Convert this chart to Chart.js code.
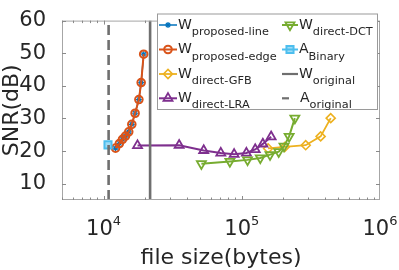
<!DOCTYPE html>
<html>
<head>
<meta charset="utf-8">
<script src="https://cdn.jsdelivr.net/npm/chart.js@4/dist/chart.umd.min.js"></script>
<style>
  body { margin: 0; background: #fff; }
  canvas { display: block; }
</style>
</head>
<body>
<canvas id="snr-chart" width="399" height="270"></canvas>
<script>
const fontName = "DejaVu Sans"
const textColor = "#262626"

// file size (bytes) / SNR (dB)
const sizeProposed = [12200, 13000, 13700, 14400, 15200, 16000, 16900, 18000, 18700, 19500]
const snrProposedLine = [20.9, 22.3, 23.6, 24.6, 25.9, 28.2, 31.6, 35.8, 41.0, 49.7]
const snrProposedEdge = [20.9, 22.3, 23.6, 24.6, 25.9, 28.2, 31.6, 35.8, 41.0, 49.7]
const sizeGFB = [155000, 205000, 290000, 372000, 440000]
const snrGFB = [20.8, 21.3, 21.8, 24.5, 30.1]
const sizeLRA = [17600, 35200, 53000, 70500, 88000, 108000, 125000, 142000, 163000]
const snrLRA = [21.7, 21.8, 20.2, 19.4, 19.0, 19.4, 20.5, 22.2, 24.4]
const sizeDCT = [51000, 82000, 110000, 136000, 160000, 185000, 202000, 220000, 242000]
const snrDCT = [16.1, 16.8, 17.3, 17.9, 18.9, 19.8, 21.5, 24.5, 30.1]
const sizeBinary = [10760]
const snrBinary = [21.9]
const sizeWOriginal = 21700
const sizeAOriginal = 10870

const yTicks = [10, 20, 30, 40, 50, 60]
const xTicks = [1e4, 1e5, 1e6]
const xTickExp = ["4", "5", "6"]
const yRange = [5, 60]
const xRange = [5000, 1e6]

function pts(xs, ys) {
    return xs.map((x, i) => ({ x: x, y: ys[i] }))
}

// legend entries: [main letter, subscript]
const legendNames = [
    ["W", "proposed-line"], ["W", "proposed-edge"], ["W", "direct-GFB"], ["W", "direct-LRA"],
    ["W", "direct-DCT"], ["A", "Binary"], ["W", "original"], ["A", "original"]
]

const datasets = [
    { data: pts(sizeProposed, snrProposedLine), borderColor: "#0072BD", borderWidth: 1.5,
      pointStyle: "star", pointRadius: 3, pointBorderWidth: 1.2 },
    { data: pts(sizeProposed, snrProposedEdge), borderColor: "#D95319", borderWidth: 2,
      pointStyle: "circle", pointRadius: 3.8, pointBorderWidth: 2 },
    { data: pts(sizeGFB, snrGFB), borderColor: "#EDB120", borderWidth: 1.8,
      pointStyle: "rectRot", pointRadius: 4.5, pointBorderWidth: 1.6 },
    { data: pts(sizeLRA, snrLRA), borderColor: "#7E2F8E", borderWidth: 2,
      pointStyle: "triangle", pointRadius: 5.2, pointBorderWidth: 1.8 },
    { data: pts(sizeDCT, snrDCT), borderColor: "#77AC30", borderWidth: 2,
      pointStyle: "triangle", pointRotation: 180, pointRadius: 5.2, pointBorderWidth: 1.8 },
    { data: pts(sizeBinary, snrBinary), borderColor: "#4DBEEE", backgroundColor: "rgba(77,190,238,0.55)",
      pointStyle: "rect", pointRadius: 5, pointBorderWidth: 2 },
    { data: pts([sizeWOriginal, sizeWOriginal], yRange), borderColor: "#6f6f6f", borderWidth: 2.6, pointRadius: 0 },
    { data: pts([sizeAOriginal, sizeAOriginal], yRange), borderColor: "#6f6f6f", borderWidth: 2.6, pointRadius: 0,
      borderDash: [10, 5] }
]
datasets.forEach((d, i) => {
    d.showLine = true
    d.fill = false
    d.order = datasets.length - i
    if (!d.backgroundColor) d.backgroundColor = "rgba(0,0,0,0)"
    d.pointBackgroundColor = d.backgroundColor
    d.pointBorderColor = d.borderColor
})

// box, inward ticks, x labels and axis titles
const axesPlugin = {
    id: "axesBox",
    afterDatasetsDraw(chart) {
        const c = chart.ctx
        const a = chart.chartArea
        const xs = chart.scales.x
        const ys = chart.scales.y
        c.save()
        c.strokeStyle = "#a6a6a6"
        c.lineWidth = 1
        c.strokeRect(a.left + 0.5, a.top + 0.5, a.right - a.left - 1, a.bottom - a.top - 1)
        c.strokeStyle = "#8a8a8a"
        c.beginPath()
        yTicks.forEach(v => {
            const y = Math.round(ys.getPixelForValue(v)) + 0.5
            c.moveTo(a.left, y); c.lineTo(a.left + 4, y)
            c.moveTo(a.right, y); c.lineTo(a.right - 4, y)
        })
        for (let e = 3; e < 6; e++) {
            for (let m = 1; m < 10; m++) {
                const v = m * Math.pow(10, e)
                if (v < xRange[0] || v > xRange[1]) continue
                const x = Math.round(xs.getPixelForValue(v)) + 0.5
                const len = m === 1 ? 4 : 2.5
                c.moveTo(x, a.bottom); c.lineTo(x, a.bottom - len)
                c.moveTo(x, a.top); c.lineTo(x, a.top + len)
            }
        }
        c.stroke()

        c.fillStyle = textColor
        c.textBaseline = "alphabetic"
        xTicks.forEach((v, i) => {
            const x = xs.getPixelForValue(v)
            c.font = "21px '" + fontName + "'"
            const w1 = c.measureText("10").width
            c.font = "13px '" + fontName + "'"
            const w2 = c.measureText(xTickExp[i]).width
            const x0 = x - (w1 + w2) / 2
            c.font = "21px '" + fontName + "'"
            c.textAlign = "left"
            c.fillText("10", x0, 235)
            c.font = "13px '" + fontName + "'"
            c.fillText(xTickExp[i], x0 + w1, 225)
        })
        c.font = "22px '" + fontName + "'"
        c.textAlign = "center"
        c.fillText("file size(bytes)", (a.left + a.right) / 2, 264)
        c.save()
        c.translate(18, (a.top + a.bottom) / 2)
        c.rotate(-Math.PI / 2)
        c.fillText("SNR(dB)", 0, 0)
        c.restore()
        c.restore()
    }
}

function drawMarker(c, ds, x, y) {
    if (!ds.pointRadius) return
    c.fillStyle = ds.backgroundColor
    c.strokeStyle = ds.borderColor
    c.lineWidth = ds.pointBorderWidth
    c.setLineDash([])
    Chart.helpers.drawPoint(c, {
        pointStyle: ds.pointStyle, radius: ds.pointRadius,
        rotation: ds.pointRotation || 0, borderWidth: ds.pointBorderWidth
    }, x, y)
}

// legend box drawn inside the plot
const legendPlugin = {
    id: "insideLegend",
    afterDraw(chart) {
        const c = chart.ctx
        const box = { left: 157.5, top: 14, right: 377.5, bottom: 109.5 }
        c.save()
        c.fillStyle = "#fff"
        c.fillRect(box.left, box.top, box.right - box.left, box.bottom - box.top)
        c.strokeStyle = "#9a9a9a"
        c.lineWidth = 1
        c.strokeRect(box.left, box.top, box.right - box.left, box.bottom - box.top)
        const rowY = [25, 49.5, 74, 98.3]
        const cols = [{ x0: 159, x1: 177, tx: 178 }, { x0: 282, x1: 298, tx: 299 }]
        legendNames.forEach((nm, i) => {
            const col = cols[Math.floor(i / 4)]
            const y = rowY[i % 4]
            const ds = datasets[i]
            let x1 = col.x1
            let tx = col.tx
            if (i === 7) { x1 = col.x0 + 7; tx = col.tx + 1 }
            c.strokeStyle = ds.borderColor
            c.lineWidth = Math.min(ds.borderWidth || 2, 2.2)
            c.setLineDash([])
            c.beginPath()
            c.moveTo(col.x0, y); c.lineTo(x1, y)
            c.stroke()
            drawMarker(c, ds, (col.x0 + col.x1) / 2, y)
            c.fillStyle = textColor
            c.textAlign = "left"
            c.font = "14px '" + fontName + "'"
            c.fillText(nm[0], tx, y + 3.5)
            const w = c.measureText(nm[0]).width
            c.font = "11.3px '" + fontName + "'"
            c.fillText(nm[1], tx + w, y + 10)
        })
        c.restore()
    }
}

new Chart(document.getElementById("snr-chart"), {
    type: "scatter",
    data: { datasets: datasets },
    options: {
        responsive: false,
        animation: false,
        layout: { padding: { top: 9, right: 19, left: 0, bottom: 0 } },
        plugins: { legend: { display: false }, tooltip: { enabled: false } },
        scales: {
            x: {
                type: "logarithmic", min: xRange[0], max: xRange[1],
                grid: { display: false }, border: { display: false },
                ticks: { display: false },
                afterFit: s => { s.height = 70 }
            },
            y: {
                min: yRange[0], max: yRange[1],
                afterBuildTicks: s => { s.ticks = yTicks.map(v => ({ value: v })) },
                grid: { display: false }, border: { display: false },
                ticks: { font: { family: fontName, size: 21 }, color: textColor, padding: 8 },
                afterFit: s => { s.width = 62 }
            }
        }
    },
    plugins: [axesPlugin, legendPlugin]
})
</script>
</body>
</html>
